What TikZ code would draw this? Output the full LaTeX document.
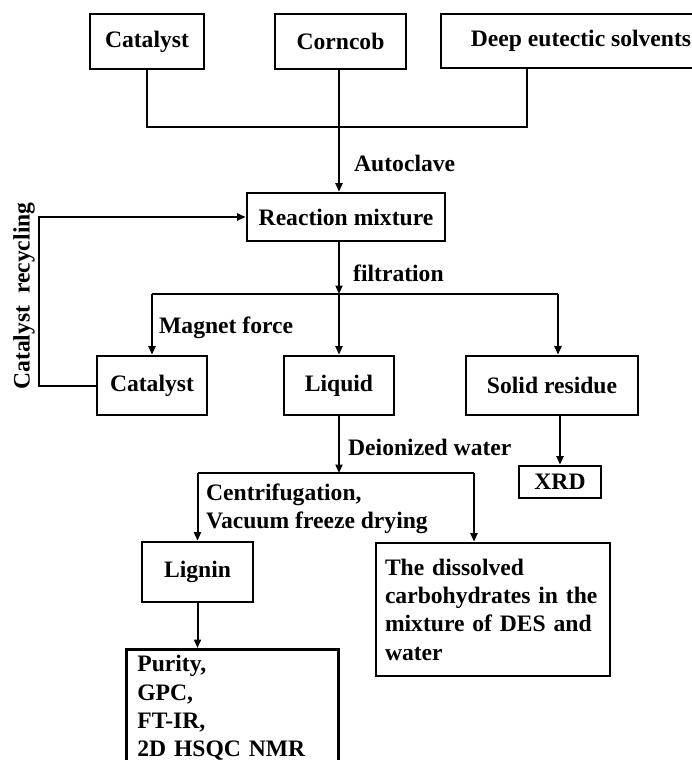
\documentclass[tikz,border=0pt]{standalone}
\usepackage{fontspec}
\setmainfont{Liberation Serif}
\usetikzlibrary{arrows.meta}
\begin{document}
\begin{tikzpicture}[x=1pt, y=-1pt,
        caja/.style={draw, line width=2.7pt, inner sep=0pt, align=center},
        flecha/.style={line width=2pt, -{Triangle[length=8.5pt, width=7pt]}},
        linea/.style={line width=2pt},
        etiqueta/.style={anchor=west, inner sep=0pt}]
    \useasboundingbox (0,0) rectangle (692,760);
    \fontsize{23.6}{28.3}\selectfont\bfseries

    % Materias primas
    \node[caja, minimum width=114, minimum height=55] (catTop) at (147,41.5) {Catalyst};
    \node[caja, minimum width=131, minimum height=55] (corncob) at (340.5,41.5) {Corncob};
    \node[caja, minimum width=280, minimum height=54] (des) at (581,41) {Deep eutectic solvents};
    \coordinate (unionA) at (339,127);
    \draw[linea] (catTop.south) |- (unionA) -| ([xshift=-54pt]des.south);
    \draw[linea] (corncob.south -| unionA) -- (unionA);

    % Reaccion
    \node[caja, minimum width=198, minimum height=48] (mix) at (346,217) {Reaction mixture};
    \draw[flecha] (unionA) -- (unionA |- mix.north);
    \node[etiqueta] (autoclave) at (354,163) {Autoclave};

    % Filtracion
    \coordinate (unionB) at (339,294);
    \draw[flecha] (mix.south -| unionB) -- (unionB);
    \node[etiqueta] (filtration) at (353,273) {filtration};
    \node[caja, minimum width=110, minimum height=59] (catBot) at (152,385.5) {Catalyst};
    \node[caja, minimum width=110, minimum height=59] (liquid) at (339,385.5) {Liquid};
    \node[caja, minimum width=172, minimum height=59] (residue) at (552,385.5) {Solid residue};
    \draw[linea] (unionB -| catBot) -- (unionB -| 558,0);
    \draw[flecha] (unionB -| catBot) -- (catBot.north);
    \draw[flecha] (unionB) -- (liquid.north);
    \draw[flecha] (unionB -| 558,0) -- (residue.north -| 558,0);
    \node[etiqueta] (magnet) at (159,328) {Magnet force};

    % Reciclado del catalizador
    \draw[flecha] (catBot.west) -- ++(-57,0) |- (mix.west);
    \node[rotate=90, inner sep=0pt] (recycling) at (24,296) {Catalyst\ \ recycling};

    % Residuo solido
    \node[caja, minimum width=82, minimum height=32] (xrd) at (560,482) {XRD};
    \draw[flecha] (residue.south -| xrd) -- (xrd.north);

    % Liquido
    \coordinate (unionC) at (339,473);
    \draw[flecha] (liquid.south) -- (unionC);
    \node[etiqueta] (deionized) at (348,447) {Deionized water};
    \node[caja, minimum width=111, minimum height=60] (lignin) at (197.5,572) {Lignin};
    \node[caja, minimum height=133, text width=216, inner xsep=9pt, align=left]
        (carbo) at (493,609.5) {The dissolved\\carbohydrates in the\\mixture of DES and\\water};
    \draw[linea] (unionC -| lignin) -- (unionC -| 474,0);
    \draw[flecha] (unionC -| lignin) -- (lignin.north);
    \draw[flecha] (unionC -| 474,0) -- (carbo.north -| 474,0);
    \node[etiqueta, align=left] (centri) at (206,509) {Centrifugation,\\Vacuum freeze drying};

    % Caracterizacion de la lignina
    \node[caja, anchor=north west, minimum width=212, text width=190,
        inner xsep=11pt, inner ysep=6pt, align=left]
        (analysis) at (125,648) {Purity,\\GPC,\\FT-IR,\\2D HSQC NMR\rule[-24pt]{0pt}{1pt}};
    \draw[flecha] (lignin.south) -- (lignin.south |- analysis.north);
\end{tikzpicture}
\end{document}
